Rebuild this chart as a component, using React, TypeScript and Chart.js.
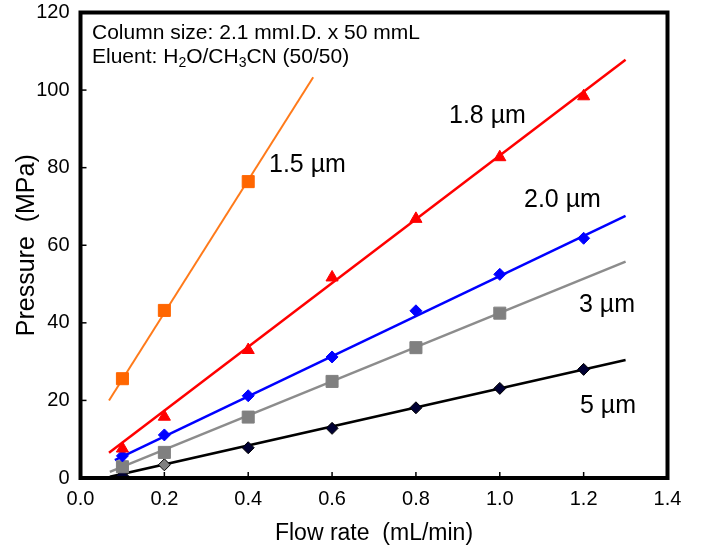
import React, { useEffect, useRef } from "react";
import { Chart, registerables } from "chart.js";

Chart.register(...registerables);

const flowRates = [0.1, 0.2, 0.4, 0.6, 0.8, 1.0, 1.2];

const p15Flow = [0.1, 0.2, 0.4];
const p15Pressure = [25.6, 43.2, 76.4];
const p18Pressure = [7.6, 15.8, 33.0, 51.7, 66.8, 82.7, 98.4];
const p20Pressure = [5.7, 11.1, 21.2, 31.2, 43.1, 52.5, 61.8];
const p3Flow = [0.1, 0.2, 0.4, 0.6, 0.8, 1.0];
const p3Pressure = [2.9, 6.6, 15.7, 24.9, 33.6, 42.5];
const p5Pressure = [0.6, 3.4, 7.8, 12.8, 18.1, 23.1, 28.0];

// regression line end points [x start, x end] / [y start, y end]
const fit15X = [0.068, 0.555];
const fit15Y = [20.0, 103.3];
const fit18X = [0.068, 1.3];
const fit18Y = [6.5, 107.8];
const fit20X = [0.082, 1.3];
const fit20Y = [4.6, 67.6];
const fit3X = [0.07, 1.3];
const fit3Y = [1.6, 55.8];
const fit5X = [0.07, 1.3];
const fit5Y = [0.3, 30.4];

const seriesLabels = ["1.5 µm", "1.8 µm", "2.0 µm", "3 µm", "5 µm"];
const xTicks = [0, 0.2, 0.4, 0.6, 0.8, 1.0, 1.2, 1.4];
const yTicks = [0, 20, 40, 60, 80, 100, 120];

const FONT = "'Liberation Sans', Arial, Helvetica, sans-serif";

const pts = (xs: number[], ys: number[]) => xs.map((x, i) => ({ x, y: ys[i] }));

const overlayPlugin = {
  id: "overlay",
  afterDraw(chart: any) {
    const { ctx, chartArea: a, scales } = chart;
    const xs = scales.x;
    const ys = scales.y;
    ctx.save();
    // inner tick marks
    ctx.strokeStyle = "#000";
    ctx.lineWidth = 1.5;
    xTicks.forEach((v) => {
      const px = xs.getPixelForValue(v);
      ctx.beginPath();
      ctx.moveTo(px, a.bottom);
      ctx.lineTo(px, a.bottom - 6);
      ctx.stroke();
    });
    yTicks.forEach((v) => {
      const py = ys.getPixelForValue(v);
      ctx.beginPath();
      ctx.moveTo(a.left, py);
      ctx.lineTo(a.left + 6, py);
      ctx.stroke();
    });
    // frame
    ctx.lineWidth = 4;
    ctx.strokeRect(a.left, a.top, a.right - a.left, a.bottom - a.top);

    // series labels
    ctx.fillStyle = "#000";
    ctx.textBaseline = "alphabetic";
    ctx.textAlign = "left";
    ctx.font = `25px ${FONT}`;
    ctx.fillText(seriesLabels[0], 269, 172);
    ctx.fillText(seriesLabels[1], 449, 123);
    ctx.fillText(seriesLabels[2], 524, 207);
    ctx.fillText(seriesLabels[3], 579, 312);
    ctx.fillText(seriesLabels[4], 580, 413);

    // info text
    ctx.font = `21px ${FONT}`;
    ctx.fillText("Column size: 2.1 mmI.D. x 50 mmL", 92, 39);
    let x = 92;
    const base = 63;
    const parts: [string, boolean][] = [
      ["Eluent: H", false],
      ["2", true],
      ["O/CH", false],
      ["3", true],
      ["CN (50/50)", false],
    ];
    parts.forEach(([t, sub]) => {
      ctx.font = sub ? `14px ${FONT}` : `21px ${FONT}`;
      ctx.fillText(t, x, sub ? base + 4 : base);
      x += ctx.measureText(t).width;
    });
    ctx.restore();
  },
};

export default function App() {
  const ref = useRef<HTMLCanvasElement | null>(null);
  useEffect(() => {
    if (!ref.current) return;
    const lineDs = (xs: number[], ys: number[], color: string, w: number) => ({
      data: pts(xs, ys),
      showLine: true,
      borderColor: color,
      borderWidth: w,
      pointRadius: 0,
      order: 2,
    });
    const markDs = (
      xs: number[],
      ys: number[],
      style: string,
      r: number,
      fill: any,
      border: string
    ) => ({
      data: pts(xs, ys),
      showLine: false,
      pointStyle: style,
      pointRadius: r,
      pointBackgroundColor: fill,
      pointBorderColor: border,
      pointBorderWidth: 1,
      order: 1,
    });
    const p5Fill = p5Pressure.map((_, i) => (i === 1 ? "#808080" : "#000033"));
    const chart = new Chart(ref.current, {
      type: "scatter",
      data: {
        datasets: [
          lineDs(fit15X, fit15Y, "#ff7a1a", 2),
          lineDs(fit18X, fit18Y, "#ff0000", 2.5),
          lineDs(fit20X, fit20Y, "#0000ff", 2.5),
          lineDs(fit3X, fit3Y, "#8c8c8c", 2.5),
          lineDs(fit5X, fit5Y, "#000000", 2.5),
          markDs(p15Flow, p15Pressure, "rect", 8.5, "#ff6600", "#ff6600"),
          markDs(flowRates, p18Pressure, "triangle", 7, "#ff0000", "#ff0000"),
          markDs(flowRates, p20Pressure, "rectRot", 6, "#0000ff", "#0000ff"),
          markDs(p3Flow, p3Pressure, "rect", 8.5, "#808080", "#808080"),
          markDs(flowRates, p5Pressure, "rectRot", 6, p5Fill, "#000000"),
        ] as any,
      },
      options: {
        responsive: false,
        animation: false,
        events: [],
        layout: { padding: { top: 12.5, right: 34.5, left: 0, bottom: 0 } },
        plugins: {
          legend: { display: false },
          tooltip: { enabled: false },
        },
        scales: {
          x: {
            type: "linear",
            min: 0,
            max: 1.4,
            afterFit: (s: any) => {
              s.height = 70;
              s.paddingLeft = 0;
              s.paddingRight = 0;
            },
            afterBuildTicks: (s: any) => {
              s.ticks = xTicks.map((v) => ({ value: v }));
            },
            grid: { display: false, drawTicks: false },
            border: { display: false },
            ticks: {
              color: "#000",
              padding: 9,
              font: { size: 20, family: FONT },
              callback: (v: any) => Number(v).toFixed(1),
            },
            title: {
              display: true,
              text: "Flow rate  (mL/min)",
              color: "#000",
              font: { size: 23, family: FONT },
              padding: { top: 0, bottom: 1 },
            },
          },
          y: {
            type: "linear",
            min: 0,
            max: 120,
            afterFit: (s: any) => {
              s.width = 80.5;
              s.paddingTop = 0;
              s.paddingBottom = 0;
            },
            afterBuildTicks: (s: any) => {
              s.ticks = yTicks.map((v) => ({ value: v }));
            },
            grid: { display: false, drawTicks: false },
            border: { display: false },
            ticks: {
              color: "#000",
              padding: 11,
              font: { size: 20, family: FONT },
              callback: (v: any) => String(v),
            },
            title: {
              display: true,
              text: "Pressure  (MPa)",
              color: "#000",
              font: { size: 25, family: FONT },
              padding: { top: 12, bottom: 0 },
            },
          },
        },
      },
      plugins: [overlayPlugin],
    });
    return () => chart.destroy();
  }, []);
  return (
    <div style={{ position: "absolute", left: 0, top: 0, width: 702, height: 548, background: "#fff" }}>
      <canvas ref={ref} width={702} height={548} style={{ display: "block" }} />
    </div>
  );
}
